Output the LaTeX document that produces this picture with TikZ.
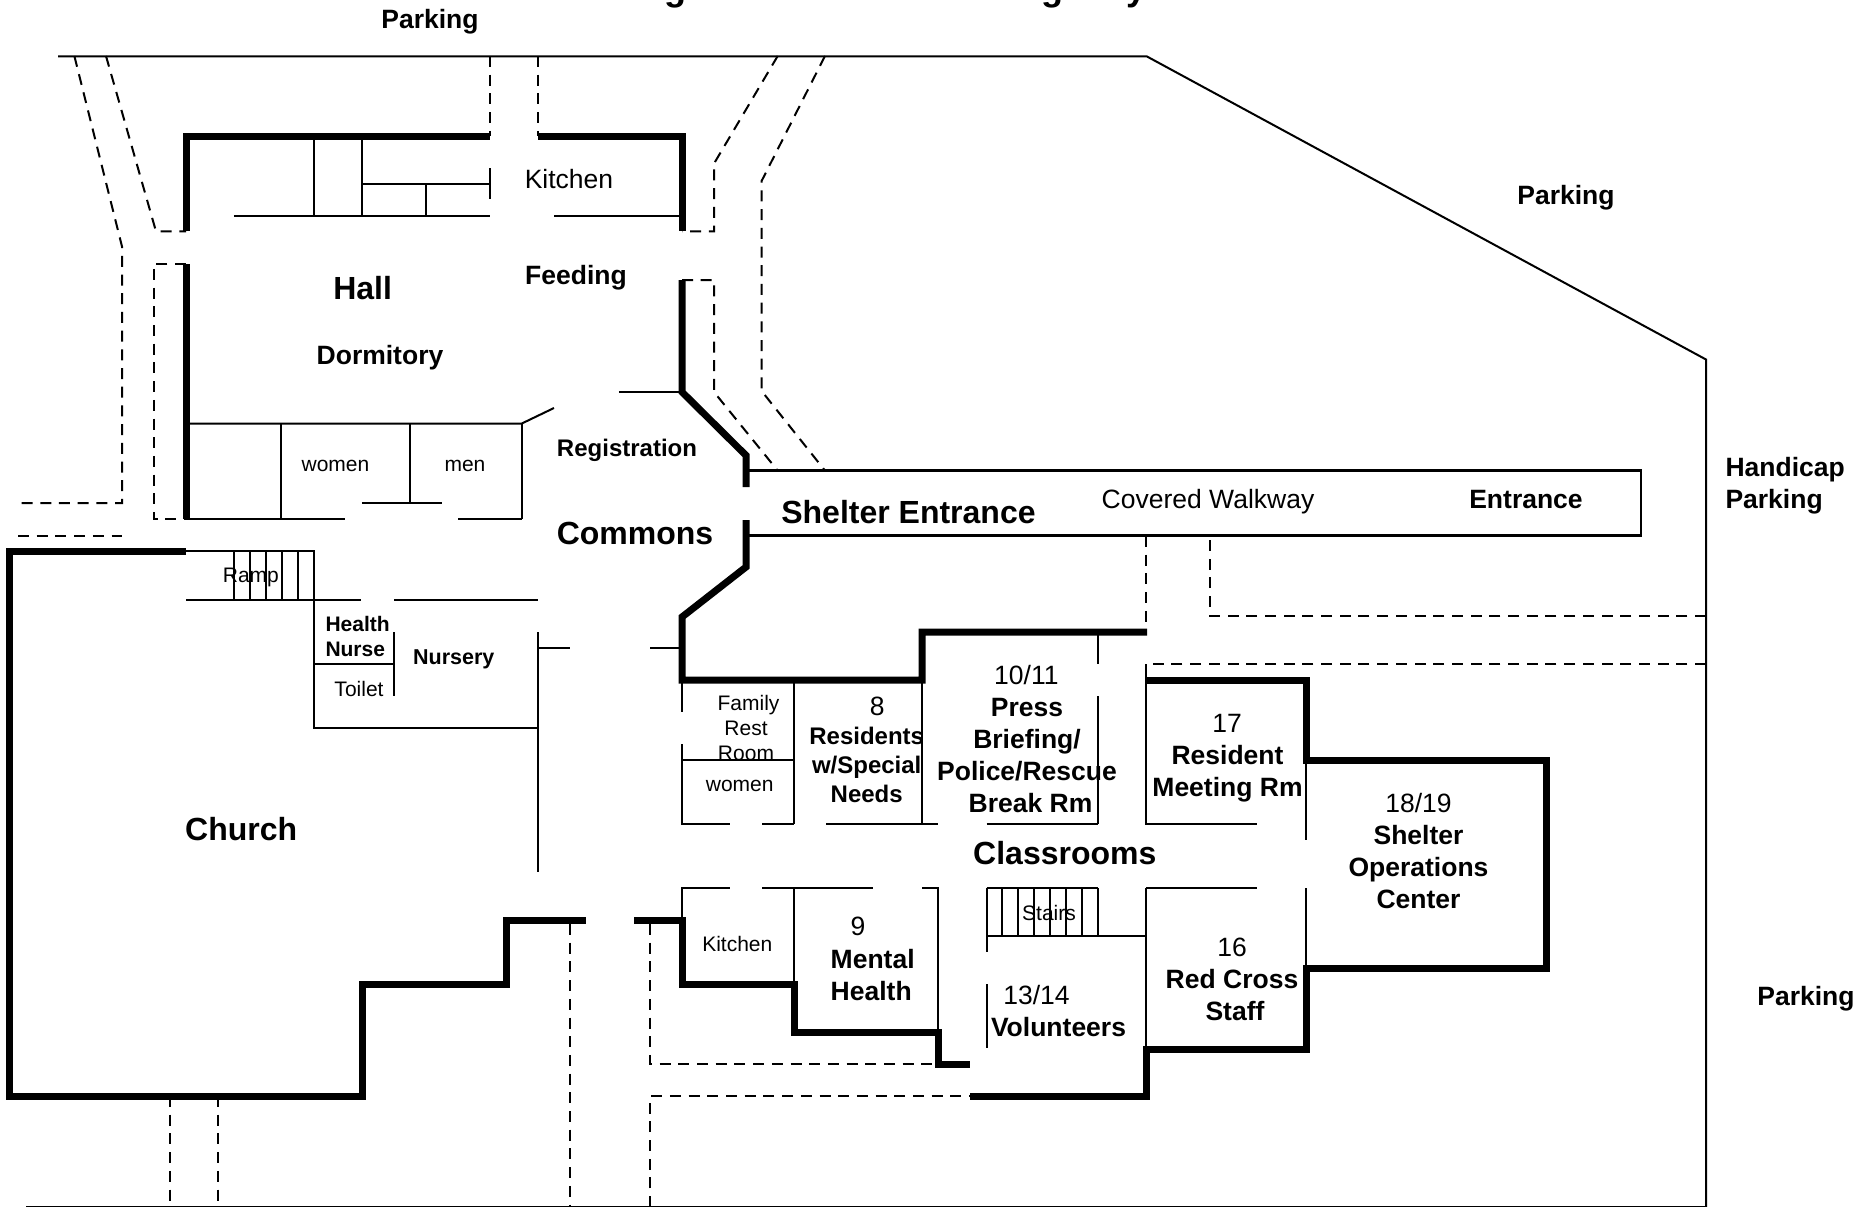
\documentclass[tikz,border=0pt]{standalone}
\usepackage{fontspec}
\setmainfont{Liberation Sans}
\tikzset{
  x=1pt,y=-1pt,
  wall/.style={line width=7pt,line join=miter,line cap=butt,black},
  thinwall/.style={line width=2pt,line join=miter,black},
  walk/.style={line width=2pt,dash pattern=on 11pt off 7.7pt,black},
  lab/.style={inner sep=0pt,outer sep=0pt,anchor=base,align=center,text=black,yshift=-0.8pt},
  bigb/.style={lab,font=\bfseries\fontsize{32}{38}\selectfont},
  medb/.style={lab,font=\bfseries\fontsize{26.5}{32}\selectfont},
  subb/.style={lab,font=\bfseries\fontsize{24}{29}\selectfont},
  nurb/.style={lab,font=\bfseries\fontsize{21.5}{26}\selectfont},
  smlb/.style={lab,font=\bfseries\fontsize{21}{25}\selectfont},
  medr/.style={lab,font=\fontsize{26.5}{32}\selectfont},
  smlr/.style={lab,font=\fontsize{21}{25}\selectfont},
  ttl/.style={lab,font=\bfseries\fontsize{36}{40}\selectfont}
}
\begin{document}
\begin{tikzpicture}
\useasboundingbox (0,0) rectangle (1866,1207);
% site boundary
\draw[thinwall] (58,56.5) -- (1147,56.5) -- (1706,359.5) -- (1706,1207);
\draw[line width=2pt,black] (26,1207.4) -- (1706,1207.4);
% walkway dashes
\draw[walk] (74.4,56) -- (122,246.4) -- (122,503) -- (18,503);
\draw[walk] (106,56) -- (156,231.4) -- (186,231.4);
\draw[walk] (186,264) -- (153.5,264) -- (153.5,519) -- (186,519);
\draw[walk] (18,536) -- (122,536);
\draw[walk] (489.7,56) -- (489.7,136);
\draw[walk] (538,56) -- (538,136);
\draw[walk] (777.7,56) -- (714,163.6) -- (714,231.4) -- (682,231.4);
\draw[walk] (825,56) -- (761.6,181) -- (761.6,391) -- (825,470.6);
\draw[walk] (682,280) -- (714,280) -- (714,392) -- (777.7,470.6);
\draw[walk] (1146,536) -- (1146,632);
\draw[walk] (1706,615.5) -- (1209.7,615.5) -- (1209.7,536);
\draw[walk] (1706,664) -- (1146,664);
\draw[walk] (570,924) -- (570,1207);
\draw[walk] (650,924) -- (650,1064) -- (938,1064);
\draw[walk] (650,1207) -- (650,1096) -- (970,1096);
\draw[walk] (170,1096) -- (170,1207);
\draw[walk] (218,1096) -- (218,1207);
% thick outer walls
\draw[wall] (489.7,136) -- (186,136) -- (186,231.4);
\draw[wall] (538,136) -- (682,136) -- (682,231.4);
\draw[wall] (186,264) -- (186,519);
\draw[wall] (682,280) -- (682,392) -- (746,455.4) -- (746,487);
\draw[wall] (746,520) -- (746,567) -- (682,617) -- (682,680) -- (922,680) -- (922,632) -- (1147,632);
\draw[wall] (186,551.3) -- (9.5,551.3) -- (9.5,1096) -- (362,1096) -- (362,984.4) -- (506,984.4) -- (506,920) -- (586,920);
\draw[wall] (634,920) -- (682,920) -- (682,984) -- (794,984) -- (794,1032) -- (938,1032) -- (938,1064) -- (970,1064);
\draw[wall] (970,1096) -- (1146,1096) -- (1146,1049) -- (1306,1049) -- (1306,968) -- (1546,968) -- (1546,760) -- (1306,760) -- (1306,680) -- (1146,680);
% covered walkway
\draw[thinwall,line width=2.4pt] (746,470.5) -- (1641,470.5) -- (1641,535.5) -- (746,535.5);
% hall interior
\draw[thinwall] (313.6,136) -- (313.6,215.6);
\draw[thinwall] (361.8,136) -- (361.8,215.6);
\draw[thinwall] (233.8,215.6) -- (489.7,215.6);
\draw[thinwall] (554,215.6) -- (682,215.6);
\draw[thinwall] (361.8,183.6) -- (490,183.6);
\draw[thinwall] (426,183.6) -- (426,215.6);
\draw[thinwall] (489.7,168) -- (489.7,199);
\draw[thinwall] (186,423.5) -- (521.8,423.5) -- (554,408);
\draw[thinwall] (618.8,391.5) -- (682,391.5);
\draw[thinwall] (281.4,423.5) -- (281.4,519.4);
\draw[thinwall] (410,423.5) -- (410,503);
\draw[thinwall] (361.8,503) -- (442,503);
\draw[thinwall] (521.8,423.5) -- (521.8,519.4);
\draw[thinwall] (186,519.4) -- (345,519.4);
\draw[thinwall] (458,519.4) -- (521.8,519.4);
% ramp
\draw[thinwall] (186,551.3) -- (313.6,551.3) -- (313.6,728) -- (538,728);
\foreach \rx in {234,250,266,282,297.5} \draw[thinwall] (\rx,551.3) -- (\rx,600);
\draw[thinwall] (186,600) -- (361,600);
\draw[thinwall] (394,600) -- (538,600);
% nursery
\draw[thinwall] (394,632) -- (394,695.6);
\draw[thinwall] (313.6,664) -- (394,664);
\draw[thinwall] (538,632) -- (538,871.6);
\draw[thinwall] (538,647.5) -- (570,647.5);
\draw[thinwall] (650,647.5) -- (682,647.5);
% classroom block, north
\draw[thinwall] (682,680) -- (682,711.7);
\draw[thinwall] (682,744.3) -- (682,824) -- (730,824);
\draw[thinwall] (682,760) -- (794,760);
\draw[thinwall] (794,680) -- (794,824);
\draw[thinwall] (762,824) -- (794,824);
\draw[thinwall] (826,824) -- (938,824);
\draw[thinwall] (922,680) -- (922,824);
\draw[thinwall] (986.5,824) -- (1098.4,824);
\draw[thinwall] (1098.4,632) -- (1098.4,664);
\draw[thinwall] (1098.4,696.4) -- (1098.4,824);
\draw[thinwall] (1146,664) -- (1146,824) -- (1257,824);
\draw[thinwall] (1306,680) -- (1306,839.6);
% classroom block, south
\draw[thinwall] (682,920) -- (682,888) -- (730,888);
\draw[thinwall] (762,888) -- (873,888);
\draw[thinwall] (826,887.5) -- (858,887.5);
\draw[thinwall] (922,888) -- (938,888) -- (938,1032);
\draw[thinwall] (794,888) -- (794,984);
\draw[thinwall] (986.5,888) -- (1098.4,888);
\foreach \sx in {1002,1018,1034,1050,1066,1082,1098.4} \draw[thinwall] (\sx,888) -- (\sx,936);
\draw[thinwall] (986.5,888) -- (986.5,951.6);
\draw[thinwall] (986.5,936) -- (1146,936);
\draw[thinwall] (986.5,984.4) -- (986.5,1048);
\draw[thinwall] (1146,888) -- (1146,1049);
\draw[thinwall] (1146,888) -- (1257,888);
\draw[thinwall] (1306,888) -- (1306,968);
% title remnants
\node[ttl] (t1) at (675,-0.5) {g};
\node[ttl] (t2) at (1052.7,-0.5) {g};
\node[ttl] (t3) at (1136,-0.5) {y};
% labels
\node[medb] (parkA) at (430,27.7) {Parking};
\node[medb] (parkB) at (1566,204) {Parking};
\node[medb] (parkC) at (1806,1004.4) {Parking};
\node[medb,align=left,anchor=base west] (parkD) at (1725.5,508) {Handicap\\Parking};
\node[medr] (kitA) at (569,188) {Kitchen};
\node[medb] (feed) at (576,283.7) {Feeding};
\node[bigb] (hall) at (362.6,298.4) {Hall};
\node[medb] (dorm) at (380,363.8) {Dormitory};
\node[smlr] (womA) at (335.5,470.5) {women};
\node[smlr] (men) at (465,470.5) {men};
\node[subb] (reg) at (627,456) {Registration};
\node[bigb] (comm) at (635,544) {Commons};
\node[smlr] (ramp) at (250.9,582) {Ramp};
\node[bigb] (shel) at (908.5,522.5) {Shelter Entrance};
\node[medr] (cov) at (1208,507.4) {Covered Walkway};
\node[medb] (ent) at (1526,507.4) {Entrance};
\node[bigb] (church) at (241.2,839.6) {Church};
\node[smlb,align=left,anchor=base west] (nurse) at (325.5,656) {Health\\Nurse};
\node[smlr] (toil) at (359,695.6) {Toilet};
\node[nurb] (nurs) at (453.8,663.7) {Nursery};
\node[smlr] (fam) at (746,760) {\hspace*{5pt}Family\\Rest\\Room};
\node[smlr] (womB) at (739.7,790.7) {women};
\node[medr] (n8) at (877.3,715) {8};
\node[subb] (res) at (866.7,802) {Residents\\w/Special\\Needs};
\node[medr] (n10) at (1026.4,683.7) {10/11};
\node[medb] (press) at (1027,812) {Press\\Briefing/\\Police/Rescue\\\hspace*{7pt}Break Rm};
\node[medr] (n17) at (1227,731.8) {17};
\node[medb] (resm) at (1227.5,795.7) {Resident\\Meeting Rm};
\node[medr] (n18) at (1418.5,812) {18/19};
\node[medb] (ops) at (1418.5,908) {Shelter\\Operations\\Center};
\node[medr] (n16) at (1232,956) {16};
\node[medb] (rc) at (1232,1020) {Red Cross\\\hspace*{6pt}Staff};
\node[medr] (n13) at (1036.5,1003.6) {13/14};
\node[medb] (vol) at (1058.5,1036) {Volunteers};
\node[bigb] (cls) at (1064.8,864) {Classrooms};
\node[smlr] (st) at (1049,919.7) {Stairs};
\node[smlr] (kitB) at (737.3,950.7) {Kitchen};
\node[medr] (n9) at (858,935) {9};
\node[medb,align=left,anchor=base west] (ment) at (830.7,999.3) {Mental\\Health};
\end{tikzpicture}
\end{document}
